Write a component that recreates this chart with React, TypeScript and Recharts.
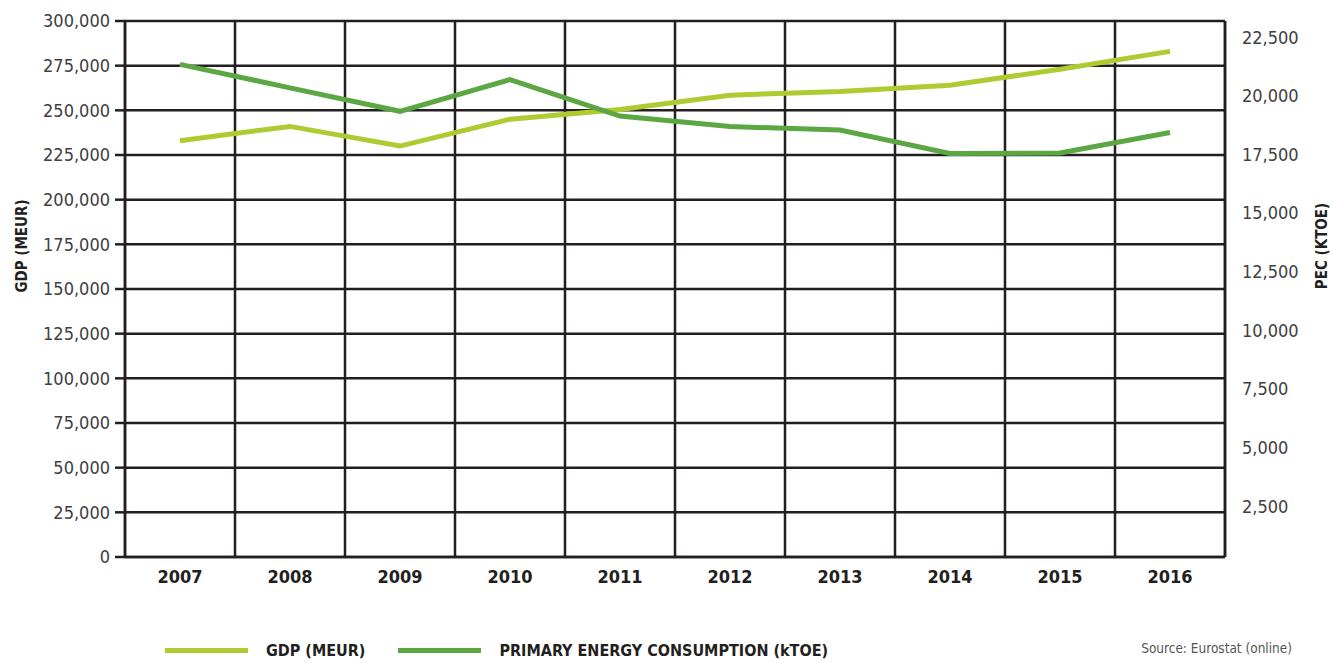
import { CartesianGrid, Line, LineChart, XAxis, YAxis } from "recharts";

const YEARS = ["2007", "2008", "2009", "2010", "2011", "2012", "2013", "2014", "2015", "2016"];
const GDP_MEUR = [233000, 241000, 230000, 245000, 250500, 258500, 260500, 264000, 273000, 283000];
const PEC_KTOE = [21000, 20000, 19000, 20350, 18800, 18350, 18200, 17200, 17220, 18100];

const GDP_TICKS = [0, 25000, 50000, 75000, 100000, 125000, 150000, 175000, 200000, 225000, 250000, 275000, 300000];
const PEC_TICKS = [2500, 5000, 7500, 10000, 12500, 15000, 17500, 20000, 22500];

const SERIES = [
  { key: "gdp", name: "GDP (MEUR)", color: "#AFCB32", axis: "left" },
  { key: "pec", name: "PRIMARY ENERGY CONSUMPTION (kTOE)", color: "#5BA743", axis: "right" },
];

const data = YEARS.map((year, i) => ({ year, gdp: GDP_MEUR[i], pec: PEC_KTOE[i] }));

const FONT = '"DejaVu Sans Condensed", "Liberation Sans Narrow", "Open Sans", sans-serif';
const INK = "#231F20";
const LABEL = "#404040";
const fmt = (v: number) => v.toLocaleString("en-US");

const PecTick = (props: any) => {
  const { x, y, payload } = props;
  return (
    <text x={x} y={y + 8} dy="0.35em" textAnchor="start" fontFamily={FONT} fontSize={18} fill={LABEL}>
      {fmt(payload.value)}
    </text>
  );
};

const NoTick = () => <g />;

const AxisTitle = (x: number, text: string) => (props: any) => {
  const vb = props.viewBox;
  const cy = vb.y + vb.height / 2 - 43;
  return (
    <text
      x={x}
      y={cy}
      transform={`rotate(-90, ${x}, ${cy})`}
      textAnchor="middle"
      dominantBaseline="central"
      fontFamily={FONT}
      fontWeight="bold"
      fontSize={15}
      fill={INK}
    >
      {text}
    </text>
  );
};

export default function App() {
  return (
    <div style={{ position: "absolute", left: 0, top: 0, width: 1334, height: 663, background: "#fff" }}>
      <LineChart width={1334} height={663} data={data} margin={{ top: 21, right: 0, left: 0, bottom: 66 }}>
        <CartesianGrid
          yAxisId="left"
          stroke={INK}
          strokeWidth={2.5}
          verticalCoordinatesGenerator={({ offset }: any) =>
            Array.from({ length: YEARS.length + 1 }, (_, i) => offset.left + (i * offset.width) / YEARS.length)
          }
        />
        <XAxis
          dataKey="year"
          scale="band"
          height={40}
          tickLine={false}
          tickSize={0}
          tickMargin={13}
          axisLine={{ stroke: INK, strokeWidth: 2.5 }}
          tick={{ fontFamily: FONT, fontSize: 18, fontWeight: "bold", fill: INK }}
        />
        <YAxis
          yAxisId="left"
          width={125}
          domain={[0, 300000]}
          ticks={GDP_TICKS}
          interval={0}
          tickSize={10}
          tickMargin={5}
          tickFormatter={fmt}
          tickLine={{ stroke: INK, strokeWidth: 2.5 }}
          axisLine={{ stroke: INK, strokeWidth: 2.5 }}
          tick={{ fontFamily: FONT, fontSize: 18, fill: LABEL }}
          label={AxisTitle(22, "GDP (MEUR)")}
        />
        <YAxis
          yAxisId="marks"
          orientation="right"
          width={12}
          domain={[0, 300000]}
          ticks={GDP_TICKS}
          interval={0}
          tickSize={10}
          tick={NoTick}
          tickLine={{ stroke: INK, strokeWidth: 2.5 }}
          axisLine={{ stroke: INK, strokeWidth: 2.5 }}
        />
        <YAxis
          yAxisId="right"
          orientation="right"
          width={97}
          domain={[0, 22850]}
          ticks={PEC_TICKS}
          interval={0}
          tickSize={0}
          tickMargin={5}
          tickLine={false}
          axisLine={false}
          tick={PecTick}
          label={AxisTitle(1322, "PEC (KTOE)")}
        />
        {SERIES.map((s) => (
          <Line
            key={s.key}
            yAxisId={s.axis}
            dataKey={s.key}
            name={s.name}
            type="linear"
            stroke={s.color}
            strokeWidth={5}
            dot={false}
            activeDot={false}
            isAnimationActive={false}
          />
        ))}
      </LineChart>

      <div
        style={{
          position: "absolute",
          left: 165,
          top: 637,
          height: 26,
          display: "flex",
          alignItems: "center",
          gap: 33,
          fontFamily: FONT,
          fontWeight: "bold",
          fontSize: 16,
          color: INK,
        }}
      >
        {SERIES.map((s) => (
          <div key={s.key} style={{ display: "flex", alignItems: "center", gap: 18 }}>
            <div style={{ width: 83, height: 5, background: s.color }} />
            <span>{s.name}</span>
          </div>
        ))}
      </div>

      <div
        style={{
          position: "absolute",
          right: 42,
          top: 640,
          fontFamily: FONT,
          fontSize: 13.5,
          color: "#555",
        }}
      >
        Source: Eurostat (online)
      </div>
    </div>
  );
}
